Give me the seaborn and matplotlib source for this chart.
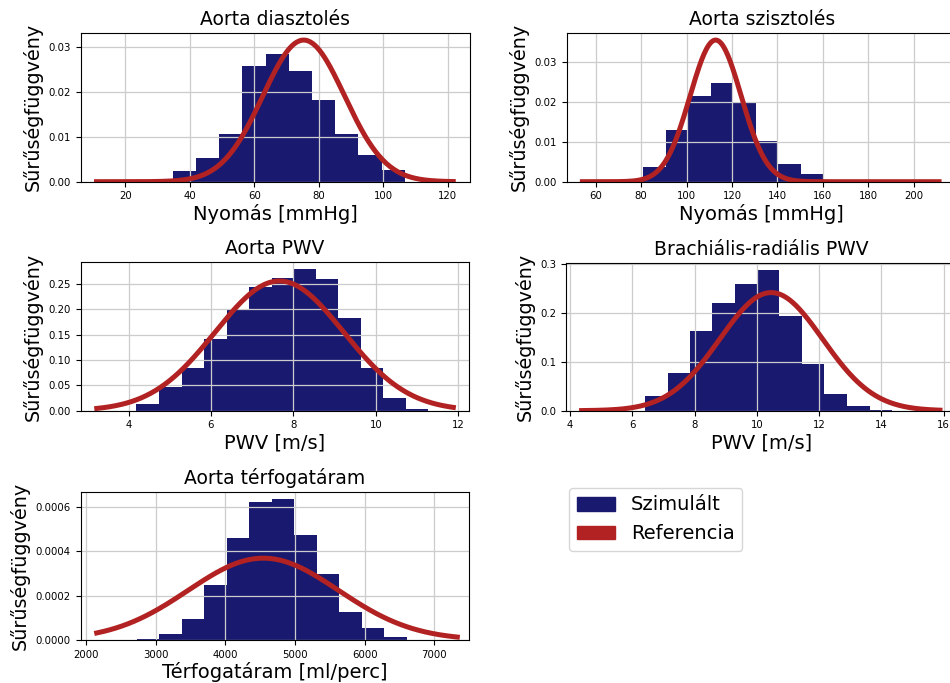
import numpy as np
import pandas as pd
import matplotlib.pyplot as plt
import seaborn as sns
from matplotlib.patches import Patch

# Histogram bin edges and densities
diast_edges = [27.5, 34.7, 41.9, 49.1, 56.3, 63.5, 70.7, 77.9, 85.1, 92.3, 99.5, 106.7]
diast_density = [0.0003, 0.0024, 0.0053, 0.0105, 0.0257, 0.0285, 0.0247, 0.0181, 0.0107, 0.0059, 0.0027]

szisz_edges = [80.9, 90.8, 100.7, 110.6, 120.5, 130.4, 140.3, 150.2, 160.1, 170.0]
szisz_density = [0.0036, 0.0129, 0.0216, 0.0247, 0.0200, 0.0103, 0.0044, 0.0019, 0.0004]

apwv_edges = [4.19, 4.74, 5.29, 5.83, 6.38, 6.92, 7.47, 8.00, 8.55, 9.09, 9.63, 10.18, 10.73, 11.27]
apwv_density = [0.014, 0.046, 0.085, 0.142, 0.198, 0.245, 0.261, 0.279, 0.259, 0.183, 0.084, 0.025, 0.004]

brpwv_edges = [6.41, 7.13, 7.85, 8.57, 9.30, 10.03, 10.72, 11.46, 12.17, 12.91, 13.63, 14.35]
brpwv_density = [0.030, 0.078, 0.163, 0.220, 0.259, 0.287, 0.193, 0.095, 0.035, 0.010, 0.002]

flow_edges = [2727, 3053, 3373, 3694, 4019, 4340, 4665, 4986, 5311, 5636, 5957, 6282, 6603]
flow_density = [0.000003, 0.000027, 0.000095, 0.000250, 0.000459, 0.000624, 0.000635,
                0.000474, 0.000300, 0.000125, 0.000053, 0.000012]

# Reference normal curves: mean, std, x-range
ref_params = {
    'diast': (75.3, 12.67, 11.0, 121.7),
    'szisz': (112.8, 11.24, 54.1, 211.2),
    'apwv': (7.66, 1.558, 3.23, 11.88),
    'brpwv': (10.46, 1.652, 4.37, 15.88),
    'flow': (4545, 1080, 2153, 7330),
}

titles = ['Aorta diasztolés', 'Aorta szisztolés', 'Aorta PWV', 'Brachiális-radiális PWV', 'Aorta térfogatáram']
xlabels = ['Nyomás [mmHg]', 'Nyomás [mmHg]', 'PWV [m/s]', 'PWV [m/s]', 'Térfogatáram [ml/perc]']
ylabel = 'Sűrűségfüggvény'

hist_color = '#191970'
ref_color = '#b22222'

W, H = 950, 683
fig = plt.figure(figsize=(W / 100, H / 100), dpi=100)


def px_axes(l, t, r, b):
    return fig.add_axes([l / W, 1 - b / H, (r - l) / W, (b - t) / H])


panels = [
    ('diast', diast_edges, diast_density, (80.7, 33, 470, 181.7), (6.1, 126.9), np.arange(20, 121, 20), np.arange(0, 0.031, 0.01)),
    ('szisz', szisz_edges, szisz_density, (566.7, 33, 957, 181.7), (47.2, 219.1), np.arange(60, 201, 20), np.arange(0, 0.031, 0.01)),
    ('apwv', apwv_edges, apwv_density, (80.7, 262.3, 469, 410.7), (2.84, 12.26), np.arange(4, 13, 2), np.arange(0, 0.26, 0.05)),
    ('brpwv', brpwv_edges, brpwv_density, (565.7, 263.3, 957.7, 410.7), (3.86, 16.45), np.arange(4, 17, 2), np.arange(0, 0.31, 0.1)),
    ('flow', flow_edges, flow_density, (80.7, 492.3, 469, 640), (1923, 7498), np.arange(2000, 7001, 1000), np.arange(0, 0.00061, 0.0002)),
]

for i, (key, edges, dens, box, xlim, xt, yt) in enumerate(panels):
    ax = px_axes(*box)
    e = np.array(edges)
    df = pd.DataFrame({'x': (e[:-1] + e[1:]) / 2, 'w': dens})
    sns.histplot(data=df, x='x', weights='w', bins=list(edges), stat='count', color=hist_color,
                 alpha=1, linewidth=0, ax=ax)
    mu, sd, lo, hi = ref_params[key]
    xs = np.linspace(lo, hi, 300)
    pdf = np.exp(-(xs - mu) ** 2 / (2 * sd ** 2)) / (sd * np.sqrt(2 * np.pi))
    sns.lineplot(x=xs, y=pdf, color=ref_color, linewidth=3.6, ax=ax)
    ax.grid(True, color='#cccccc', linewidth=0.9)
    ax.set_xlim(*xlim)
    ax.set_xticks(xt)
    ax.set_yticks(yt)
    ax.tick_params(labelsize=7.3)
    ax.set_title(titles[i], fontsize=13.5)
    ax.set_xlabel(xlabels[i], fontsize=14, labelpad=2)
    ax.set_ylabel(ylabel, fontsize=13.8, labelpad=4)

handles = [Patch(color=hist_color, label='Szimulált'), Patch(color=ref_color, label='Referencia')]
fig.legend(handles=handles, loc='upper left', bbox_to_anchor=(559 / W, 1 - 478 / H), fontsize=14)

fig.savefig('out.png', dpi=100)
